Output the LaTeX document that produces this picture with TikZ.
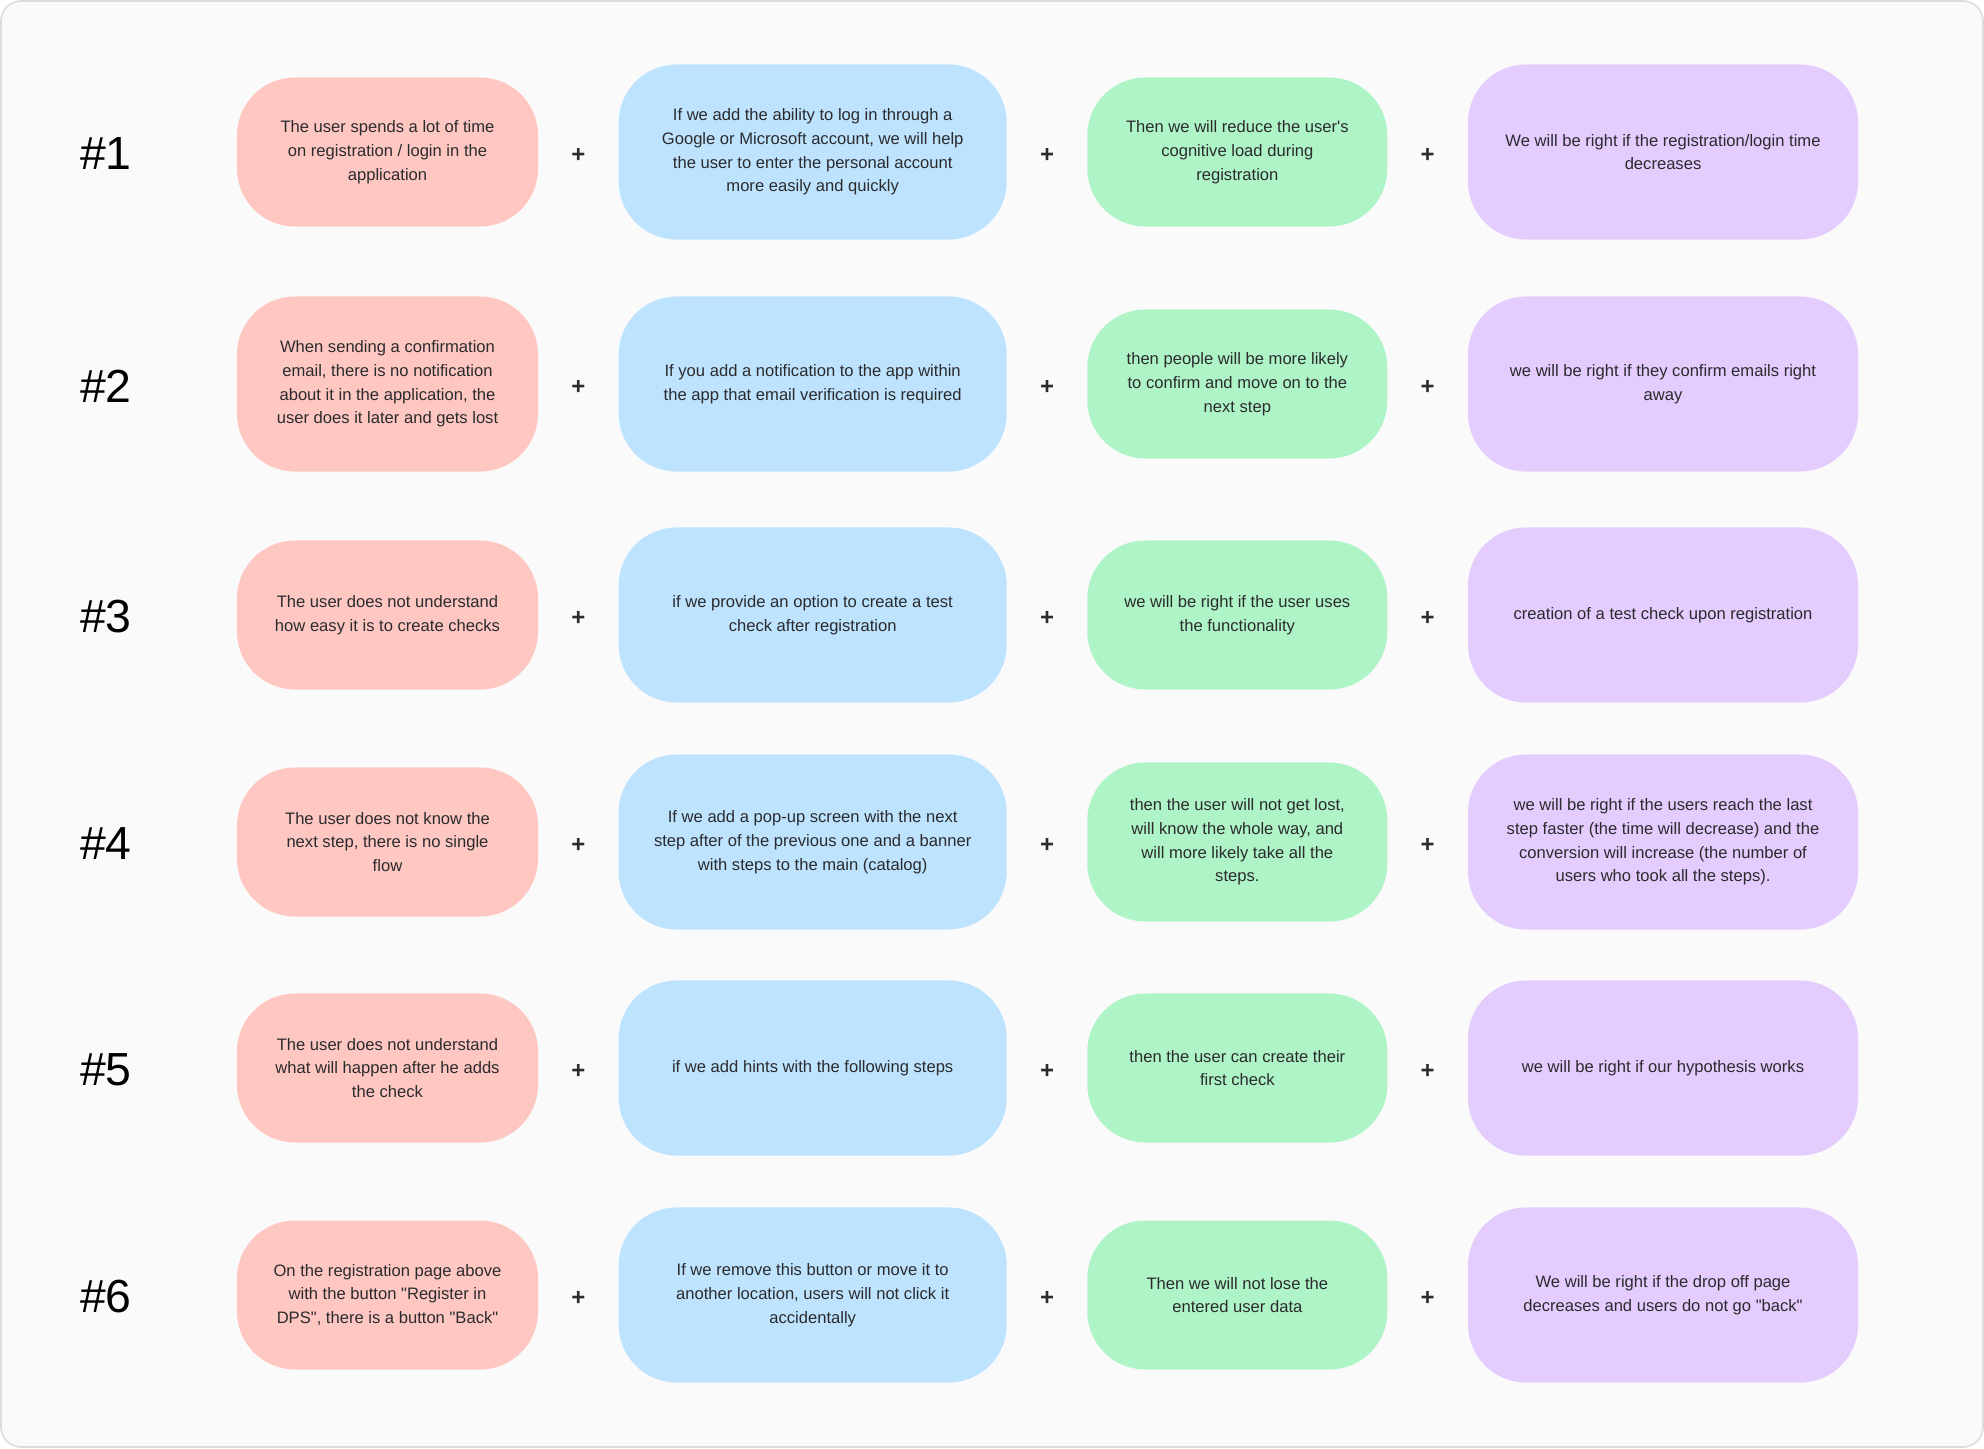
\documentclass[tikz,border=0pt]{standalone}
\usepackage{fontspec}
\setmainfont{Liberation Sans}
\usepackage{xcolor}
\usetikzlibrary{positioning, calc}

\definecolor{pagebg}{HTML}{FAFAFA}
\definecolor{framegray}{HTML}{DCDCE2}
\definecolor{pinkfill}{HTML}{FFC7C2}
\definecolor{bluefill}{HTML}{BEE3FE}
\definecolor{greenfill}{HTML}{AFF4C7}
\definecolor{purplefill}{HTML}{E4CCFE}
\definecolor{ink}{HTML}{2B2B2E}

\begin{document}
\begin{tikzpicture}[
    x=0.025cm, y=-0.025cm,
    node distance=2cm,
    card/.style={rectangle, rounded corners=1.45cm, align=center, text=ink, inner sep=0pt,
        font=\fontsize{11.8}{16.9}\selectfont},
    problem/.style={card, fill=pinkfill, minimum width=7.525cm, minimum height=3.725cm},
    hypo/.style={card, fill=bluefill, minimum width=9.7cm, minimum height=4.375cm},
    result/.style={card, fill=greenfill, minimum width=7.5cm, minimum height=3.725cm},
    metric/.style={card, fill=purplefill, minimum width=9.75cm, minimum height=4.375cm},
    tag/.style={text=black, font=\fontsize{33}{36}\selectfont},
    plus/.style={text=ink, font=\fontsize{17}{17}\selectfont\bfseries}
]
    \useasboundingbox (0,0) rectangle (1984,1448);
    \draw[framegray, fill=pagebg, line width=1.2pt, rounded corners=0.5cm] (1,1) rectangle (1983,1447);

    % Row 1
    \node[tag] (n1) at (106,154) {\#1};
    \node[problem] (p1) at (387.5,152) {The user spends a lot of time\\on registration / login in the\\application};
    \node[hypo, right=of p1] (h1) {If we add the ability to log in through a\\Google or Microsoft account, we will help\\the user to enter the personal account\\more easily and quickly};
    \node[result, right=of h1] (r1) {Then we will reduce the user\textquotesingle s\\cognitive load during\\registration};
    \node[metric, right=of r1] (m1) {We will be right if the registration/login time\\decreases};

    % Row 2
    \node[tag] (n2) at (106,386) {\#2};
    \node[problem, minimum height=4.375cm] (p2) at (387.5,384) {When sending a confirmation\\email, there is no notification\\about it in the application, the\\user does it later and gets lost};
    \node[hypo, right=of p2] (h2) {If you add a notification to the app within\\the app that email verification is required};
    \node[result, right=of h2] (r2) {then people will be more likely\\to confirm and move on to the\\next step};
    \node[metric, right=of r2] (m2) {we will be right if they confirm emails right\\away};

    % Row 3
    \node[tag] (n3) at (106,617) {\#3};
    \node[problem] (p3) at (387.5,615) {The user does not understand\\how easy it is to create checks};
    \node[hypo, right=of p3] (h3) {if we provide an option to create a test\\check after registration};
    \node[result, right=of h3] (r3) {we will be right if the user uses\\the functionality};
    \node[metric, right=of r3] (m3) {creation of a test check upon registration};

    % Row 4
    \node[tag] (n4) at (106,844) {\#4};
    \node[problem] (p4) at (387.5,842) {The user does not know the\\next step, there is no single\\flow};
    \node[hypo, right=of p4] (h4) {If we add a pop-up screen with the next\\step after of the previous one and a banner\\with steps to the main (catalog)};
    \node[result, right=of h4, minimum height=3.975cm] (r4) {then the user will not get lost,\\will know the whole way, and\\will more likely take all the\\steps.};
    \node[metric, right=of r4] (m4) {we will be right if the users reach the last\\step faster (the time will decrease) and the\\conversion will increase (the number of\\users who took all the steps).};

    % Row 5
    \node[tag] (n5) at (106,1070) {\#5};
    \node[problem] (p5) at (387.5,1068) {The user does not understand\\what will happen after he adds\\the check};
    \node[hypo, right=of p5] (h5) {if we add hints with the following steps};
    \node[result, right=of h5] (r5) {then the user can create their\\first check};
    \node[metric, right=of r5] (m5) {we will be right if our hypothesis works};

    % Row 6
    \node[tag] (n6) at (106,1297) {\#6};
    \node[problem] (p6) at (387.5,1295) {On the registration page above\\with the button \textquotedbl Register in\\DPS\textquotedbl, there is a button \textquotedbl Back\textquotedbl};
    \node[hypo, right=of p6] (h6) {If we remove this button or move it to\\another location, users will not click it\\accidentally};
    \node[result, right=of h6] (r6) {Then we will not lose the\\entered user data};
    \node[metric, right=of r6] (m6) {We will be right if the drop off page\\decreases and users do not go \textquotedbl back\textquotedbl};

    % plus signs between the cards
    \foreach \r in {1,...,6} {
        \node[plus] (a\r) at ($(p\r.east)!0.5!(h\r.west)+(0,3)$) {+};
        \node[plus] (b\r) at ($(h\r.east)!0.5!(r\r.west)+(0,3)$) {+};
        \node[plus] (c\r) at ($(r\r.east)!0.5!(m\r.west)+(0,3)$) {+};
    }

\end{tikzpicture}
\end{document}
